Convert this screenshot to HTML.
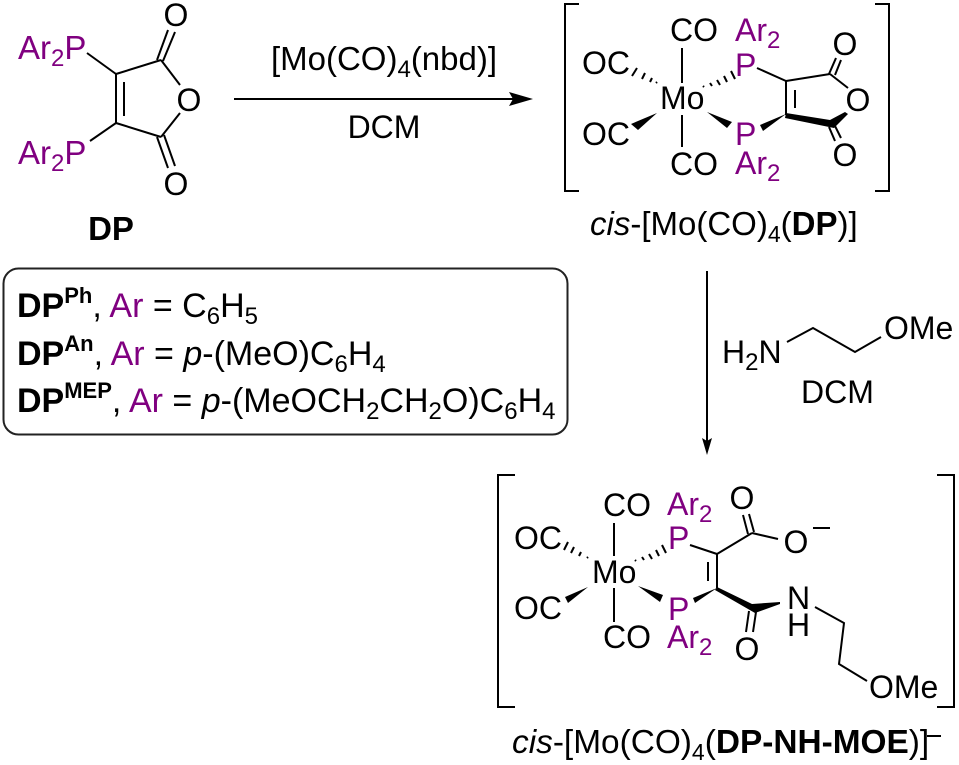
<!DOCTYPE html>
<html><head><meta charset="utf-8"><style>
html,body{margin:0;padding:0;background:#fff}
svg{display:block}
text{font-family:"Liberation Sans",sans-serif;font-size:32px;fill:#000}
.p{fill:#800080}
.b{font-weight:bold}
.i{font-style:italic}
.m{text-anchor:middle}
.big{font-size:34px}
.lbl{font-size:33px}
line,polyline{stroke:#000;stroke-width:2;fill:none}
</style></head><body>
<svg width="959" height="765" viewBox="0 0 959 765" xmlns="http://www.w3.org/2000/svg">
<!-- DP -->
<text x="18" y="59" class="p" style="font-size:33px">Ar<tspan font-size="24" dy="7">2</tspan><tspan dy="-7">P</tspan></text>
<text x="18" y="164" class="p" style="font-size:33px">Ar<tspan font-size="24" dy="7">2</tspan><tspan dy="-7">P</tspan></text>
<text x="176" y="26" class="m">O</text><text x="189" y="111" class="m">O</text><text x="176" y="195" class="m">O</text>
<line x1="87" y1="53" x2="116" y2="74"/><line x1="90" y1="141" x2="116" y2="123"/>
<line x1="116" y1="74" x2="116" y2="123"/><line x1="124" y1="82" x2="124" y2="116"/>
<line x1="116" y1="74" x2="161" y2="60"/><line x1="161" y1="60" x2="180" y2="85"/>
<line x1="116" y1="123" x2="161" y2="137"/><line x1="161" y1="137" x2="180" y2="113"/>
<line x1="157" y1="60" x2="168" y2="30"/><line x1="163" y1="61" x2="175" y2="32"/>
<line x1="157" y1="137" x2="168" y2="168"/><line x1="164" y1="135" x2="175" y2="166"/>
<text x="111" y="240" class="b m lbl">DP</text>
<!-- arrow 1 -->
<line x1="234" y1="99" x2="515" y2="99"/>
<path d="M509 92L533 99L509 106L513 99Z"/>
<text x="384" y="70" class="m" style="font-size:33px">[Mo(CO)<tspan font-size="24" dy="7">4</tspan><tspan dy="-7">(nbd)]</tspan></text>
<text x="384" y="138" class="m">DCM</text>
<!-- box -->
<rect x="3.5" y="268.5" width="564" height="166" rx="15" fill="none" stroke="#222" stroke-width="2"/>
<text x="17" y="317" class="big"><tspan class="b">DP</tspan><tspan class="b" font-size="22" dy="-14">Ph</tspan><tspan dy="14">, </tspan><tspan class="p">Ar</tspan> = C<tspan font-size="24" dy="7">6</tspan><tspan dy="-7">H</tspan><tspan font-size="24" dy="7">5</tspan></text>
<text x="17" y="365" class="big"><tspan class="b">DP</tspan><tspan class="b" font-size="22" dy="-14">An</tspan><tspan dy="14">, </tspan><tspan class="p">Ar</tspan> = <tspan class="i">p</tspan>-(MeO)C<tspan font-size="24" dy="7">6</tspan><tspan dy="-7">H</tspan><tspan font-size="24" dy="7">4</tspan></text>
<text x="17" y="412" class="big"><tspan class="b">DP</tspan><tspan class="b" font-size="22" dy="-14">MEP</tspan><tspan dy="14">, </tspan><tspan class="p">Ar</tspan> = <tspan class="i">p</tspan>-(MeOCH<tspan font-size="24" dy="7">2</tspan><tspan dy="-7">CH</tspan><tspan font-size="24" dy="7">2</tspan><tspan dy="-7">O)C</tspan><tspan font-size="24" dy="7">6</tspan><tspan dy="-7">H</tspan><tspan font-size="24" dy="7">4</tspan></text>
<!-- top complex -->
<polyline points="579,4 565,4 565,191 579,191"/>
<polyline points="875,4 889,4 889,191 875,191"/>
<text x="670" y="41">CO</text><text x="670" y="175">CO</text>
<text x="582" y="74">OC</text><text x="582" y="145">OC</text>
<text x="660" y="109">Mo</text>
<text x="735" y="41" class="p">Ar<tspan font-size="24" dy="7">2</tspan></text>
<text x="735" y="174" class="p">Ar<tspan font-size="24" dy="7">2</tspan></text>
<text x="735" y="76" class="p">P</text><text x="735" y="145" class="p">P</text>
<text x="845" y="55" class="m">O</text><text x="858" y="111" class="m">O</text><text x="845" y="166" class="m">O</text>
<line x1="682" y1="48" x2="682" y2="83"/><line x1="682" y1="115" x2="682" y2="147"/>
<g stroke="#000" stroke-width="2"><line x1="656" y1="83" x2="657" y2="82"/><line x1="650" y1="82" x2="652" y2="78"/><line x1="642" y1="79" x2="645" y2="73"/><line x1="632" y1="76" x2="637" y2="68"/></g>
<g stroke="#000" stroke-width="2"><line x1="703" y1="86" x2="704" y2="87"/><line x1="710" y1="83" x2="712" y2="86"/><line x1="717" y1="80" x2="720" y2="85"/><line x1="724" y1="76" x2="727" y2="82"/><line x1="731" y1="71" x2="735" y2="79"/></g>
<path d="M657 113L631 124L638 130Z"/>
<path d="M707 112L732 122L727 128Z"/>
<line x1="757" y1="68" x2="786" y2="81"/>
<line x1="786" y1="81" x2="786" y2="115"/><line x1="795" y1="90" x2="795" y2="108"/>
<line x1="786" y1="81" x2="830" y2="74"/><line x1="830" y1="74" x2="848" y2="88"/>
<path d="M786 114L760 125L763 131Z"/>
<path d="M786 113L830 120L845 112L848 114L834 128L785 118Z"/>
<line x1="829" y1="74" x2="836" y2="58"/><line x1="835" y1="75" x2="841" y2="60"/>
<line x1="829" y1="127" x2="835" y2="141"/><line x1="835" y1="126" x2="841" y2="138"/>
<text x="590" y="235" class="lbl"><tspan class="i">cis</tspan>-[Mo(CO)<tspan font-size="23" dy="7">4</tspan><tspan dy="-7">(</tspan><tspan class="b">DP</tspan>)]</text>
<!-- arrow 2 -->
<line x1="707" y1="271" x2="707" y2="442"/>
<path d="M702 438L707 455L712 438L707 441Z"/>
<text x="722" y="363">H<tspan font-size="24" dy="7">2</tspan><tspan dy="-7">N</tspan></text>
<text x="884" y="339">OMe</text>
<text x="801" y="403">DCM</text>
<polyline points="787,342 813,328 855,352 881,337"/>
<!-- bottom complex -->
<polyline points="515,475 498,475 498,707 515,707"/>
<polyline points="937,475 954,475 954,707 937,707"/>
<text x="603" y="516">CO</text><text x="603" y="648">CO</text>
<text x="514" y="549">OC</text><text x="514" y="619">OC</text>
<text x="592" y="583">Mo</text>
<text x="667" y="515" class="p">Ar<tspan font-size="24" dy="7">2</tspan></text>
<text x="667" y="648" class="p">Ar<tspan font-size="24" dy="7">2</tspan></text>
<text x="668" y="549" class="p">P</text><text x="668" y="620" class="p">P</text>
<text x="742" y="509" class="m">O</text><text x="796" y="553" class="m">O</text>
<line x1="813" y1="528" x2="830" y2="528"/>
<text x="747" y="660" class="m">O</text>
<text x="787" y="609">N</text><text x="787" y="636">H</text>
<text x="869" y="698">OMe</text>
<line x1="614" y1="523" x2="614" y2="556"/><line x1="614" y1="588" x2="614" y2="622"/>
<g stroke="#000" stroke-width="2"><line x1="587" y1="558" x2="588" y2="557"/><line x1="579" y1="556" x2="581" y2="552"/><line x1="571" y1="553" x2="574" y2="547"/><line x1="564" y1="550" x2="568" y2="542"/></g>
<g stroke="#000" stroke-width="2"><line x1="635" y1="560" x2="636" y2="561"/><line x1="642" y1="557" x2="644" y2="560"/><line x1="649" y1="554" x2="652" y2="559"/><line x1="656" y1="550" x2="659" y2="556"/><line x1="662" y1="545" x2="666" y2="553"/></g>
<path d="M588 587L565 597L568 603Z"/>
<path d="M638 586L663 595L660 602Z"/>
<line x1="690" y1="545" x2="717" y2="554"/>
<line x1="717" y1="554" x2="717" y2="588"/><line x1="708" y1="562" x2="708" y2="581"/>
<line x1="717" y1="554" x2="752" y2="533"/><line x1="752" y1="533" x2="778" y2="539"/>
<line x1="748" y1="534" x2="743" y2="515"/><line x1="754" y1="532" x2="749" y2="514"/>
<path d="M717 588L693 598L695 603Z"/>
<path d="M717 587L752 604L780 602L780 604L755 613L715 590Z"/>
<line x1="749" y1="611" x2="746" y2="632"/><line x1="756" y1="612" x2="753" y2="632"/>
<polyline points="815,607 844,623 839,664 867,681"/>
<text x="512" y="753" style="font-size:33.4px"><tspan class="i">cis</tspan>-[Mo(CO)<tspan font-size="23" dy="7">4</tspan><tspan dy="-7">(</tspan><tspan class="b">DP-NH-MOE</tspan>)]</text>
<line x1="927" y1="736" x2="941" y2="736" stroke-width="1.5"/>
</svg>
</body></html>
